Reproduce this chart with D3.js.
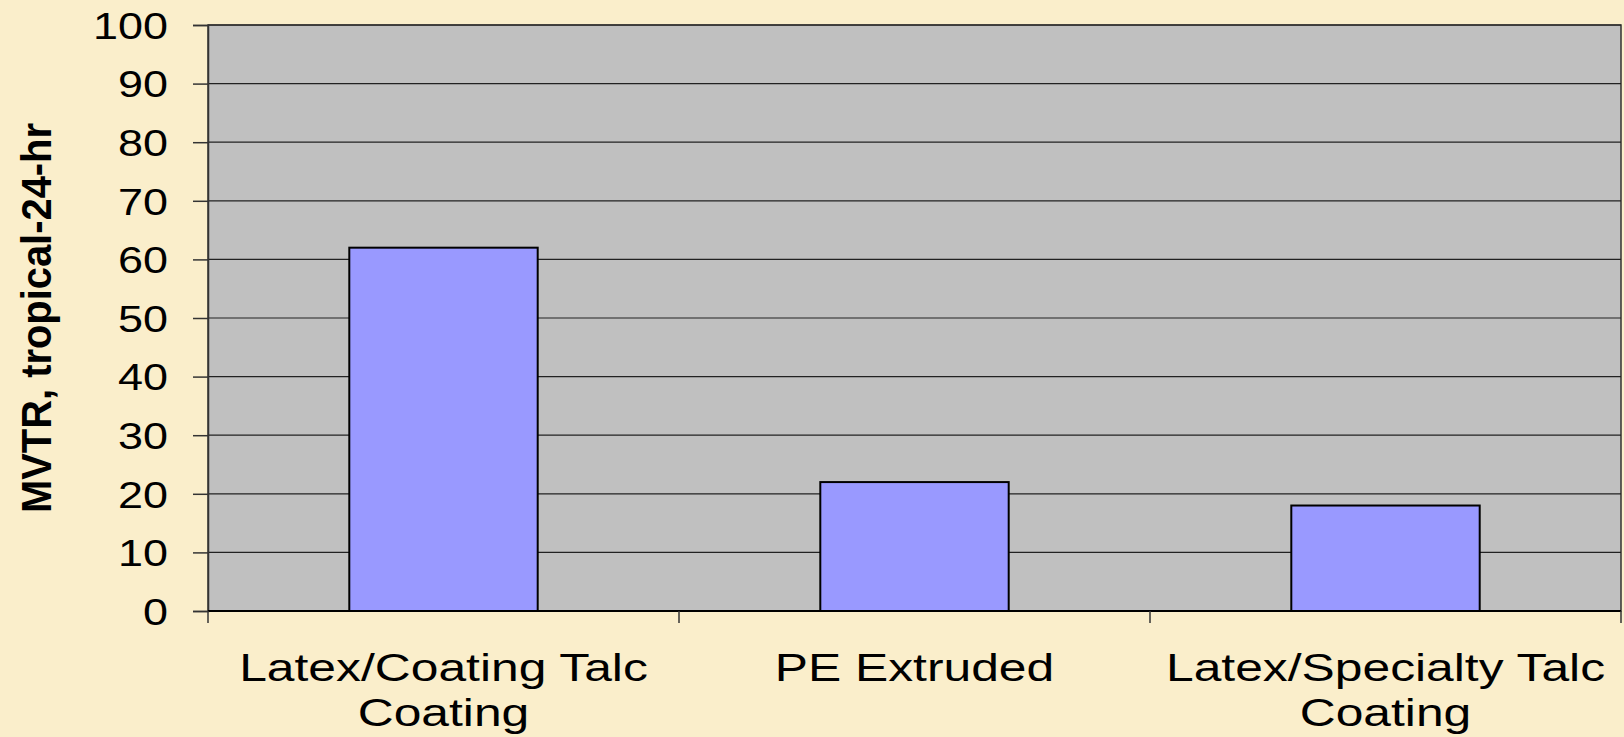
<!DOCTYPE html>
<html><head><meta charset="utf-8">
<script src="https://cdn.jsdelivr.net/npm/d3@7"></script>
<style>html,body{margin:0;padding:0;background:#FAEECB;}svg{display:block;}</style>
</head><body>
<script>
const categories = [["Latex/Coating Talc","Coating"],["PE Extruded"],["Latex/Specialty Talc","Coating"]];
const values = [62, 22, 18];
const yTicks = [0,10,20,30,40,50,60,70,80,90,100];
const yTitle = "MVTR, tropical-24-hr";

const W = 1624, H = 737;
const m = {left:208, right:1621, top:25, bottom:611};
const FONT = "Liberation Sans, Arial, sans-serif";
const svg = d3.select("body").append("svg").attr("width",W).attr("height",H);
svg.append("rect").attr("width",W).attr("height",H).attr("fill","#FAEECB");

const x = d3.scaleBand().domain(d3.range(categories.length)).range([m.left,m.right]).paddingInner(0.6).paddingOuter(0.3);
const xOuter = d3.scaleBand().domain(d3.range(categories.length)).range([m.left,m.right]);
const y = d3.scaleLinear().domain([0,100]).range([m.bottom,m.top]);

function stretch(sel, factor){
  sel.each(function(){
    const w = this.getComputedTextLength();
    d3.select(this).attr("textLength", w*factor).attr("lengthAdjust","spacingAndGlyphs");
  });
}

svg.append("rect").attr("x",m.left).attr("y",m.top).attr("width",m.right-m.left).attr("height",m.bottom-m.top)
  .attr("fill","#C0C0C0").attr("stroke","#333").attr("stroke-width",1.5);

// gridlines
svg.append("g").selectAll("line").data(yTicks.filter(d=>d>0)).join("line")
  .attr("x1",m.left).attr("x2",m.right).attr("y1",d=>y(d)).attr("y2",d=>y(d))
  .attr("stroke","#222").attr("stroke-width",1.2);

// y axis
const yAxis = d3.axisLeft(y).tickValues(yTicks).tickSize(15).tickPadding(25);
const gy = svg.append("g").attr("transform",`translate(${m.left},0)`).call(yAxis);
gy.select(".domain").attr("stroke","#333").attr("stroke-width",1.5);
gy.selectAll(".tick line").attr("stroke","#333").attr("stroke-width",1.5);
gy.selectAll("text").attr("font-family",FONT).attr("font-size",37).attr("fill","#000").attr("dy","0.36em")
  .call(stretch, 1.215);

// bars
svg.append("g").selectAll("rect").data(values).join("rect")
  .attr("x",(d,i)=>x(i)).attr("width",x.bandwidth())
  .attr("y",d=>y(d)).attr("height",d=>y(0)-y(d))
  .attr("fill","#9999FF").attr("stroke","#000").attr("stroke-width",2);

// x axis
const gx = svg.append("g").attr("transform",`translate(0,${m.bottom})`);
gx.append("line").attr("x1",m.left).attr("x2",m.right).attr("stroke","#000").attr("stroke-width",2);
const bounds = d3.range(categories.length+1).map(i=> i<categories.length ? xOuter(i) : m.right);
gx.selectAll("line.tk").data(bounds).join("line").attr("class","tk")
  .attr("x1",d=>d).attr("x2",d=>d).attr("y1",0).attr("y2",12).attr("stroke","#333").attr("stroke-width",1.5);
gx.selectAll("g.lbl").data(categories).join("g").attr("class","lbl")
  .attr("transform",(d,i)=>`translate(${xOuter(i)+xOuter.bandwidth()/2},0)`)
  .each(function(d){
    d3.select(this).selectAll("text").data(d).join("text")
      .attr("text-anchor","middle").attr("font-family",FONT).attr("font-size",38).attr("fill","#000")
      .attr("x",0).attr("y",(t,j)=>70+j*45).text(t=>t)
      .call(stretch, 1.31);
  });

// y title
svg.append("text").attr("transform",`translate(51,318) rotate(-90)`).attr("text-anchor","middle")
  .attr("font-family",FONT).attr("font-weight","bold").attr("font-size",42)
  .attr("textLength",390).attr("lengthAdjust","spacingAndGlyphs").attr("fill","#000").text(yTitle);
</script>
</body></html>
